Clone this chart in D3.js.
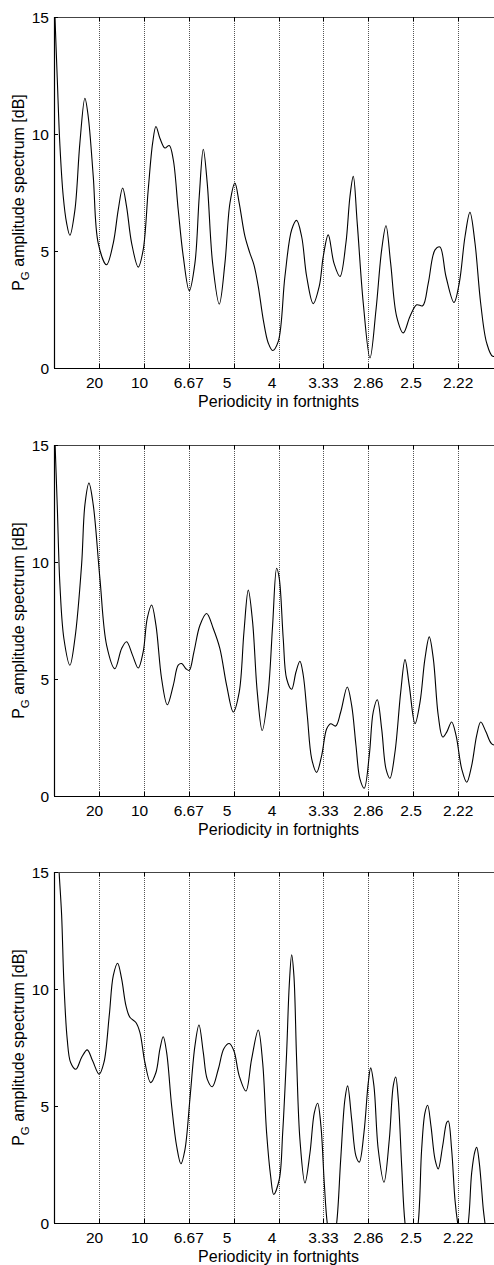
<!DOCTYPE html>
<html>
<head>
<meta charset="utf-8">
<script src="https://cdn.jsdelivr.net/npm/d3@7"></script>
<style>
  html, body { margin: 0; padding: 0; background: #fff; }
  svg { display: block; }
  text { font-family: "Liberation Sans", Arial, Helvetica, sans-serif; fill: #000; }
</style>
</head>
<body>
<svg id="chart" width="494" height="1265"></svg>
<script>
// ---- data ----
const tickFreqs = [0.05, 0.10, 0.15, 0.20, 0.25, 0.30, 0.35, 0.40, 0.45];
const tickLabels = ["20", "10", "6.67", "5", "4", "3.33", "2.86", "2.5", "2.22"];
const yTicks = [0, 5, 10, 15];
const xTitle = "Periodicity in fortnights";

const freq1 = [0.0005,0.0036,0.0066,0.0103,0.014,0.0177,0.0233,0.0288,0.0344,0.0381,0.0437,0.0492,0.0585,0.066,0.0715,0.0764,0.0808,0.0864,0.0938,0.0993,0.1049,0.1098,0.1135,0.1179,0.1235,0.1283,0.1328,0.1383,0.1439,0.1506,0.1569,0.1617,0.1662,0.1706,0.1766,0.184,0.1903,0.1959,0.2014,0.2062,0.2126,0.2181,0.2226,0.2274,0.233,0.2385,0.2434,0.2497,0.2571,0.2646,0.2701,0.2757,0.2813,0.2886,0.2953,0.2998,0.3053,0.3117,0.3184,0.325,0.3295,0.3332,0.3376,0.3443,0.3518,0.3585,0.3648,0.3696,0.3748,0.3815,0.3889,0.3963,0.4038,0.4105,0.4167,0.4242,0.4297,0.4364,0.4453,0.4512,0.4576,0.4631,0.4687,0.475,0.4817,0.4884,0.495];
const amp1 = [15.6,12.4,9.5,7.33,6.2,5.67,6.76,9.61,11.53,10.75,8.19,5.34,4.41,5.34,6.76,7.69,6.9,5.34,4.31,5.05,7.62,9.61,10.32,9.82,9.4,9.51,8.9,6.76,4.77,3.3,4.48,7.33,9.35,7.9,4.48,2.73,4.48,7.05,7.9,7.05,5.62,4.91,4.41,3.49,2.06,1.07,0.75,1.14,3.91,5.91,6.31,5.62,3.91,2.75,3.49,4.77,5.69,4.48,3.91,5.34,7.33,8.19,6.19,2.78,0.43,2.49,5.05,6.08,4.48,2.2,1.5,2.2,2.7,2.66,3.63,5.05,5.17,3.91,2.8,3.63,5.62,6.65,5.34,2.78,1.07,0.5,0.6];

const freq2 = [0.0005,0.0036,0.0066,0.011,0.0177,0.0233,0.0307,0.0344,0.0389,0.0437,0.0511,0.0586,0.0678,0.0753,0.0808,0.0875,0.0938,0.0993,0.1038,0.1087,0.1135,0.1198,0.1261,0.1328,0.1383,0.1421,0.1469,0.1506,0.1558,0.1625,0.1699,0.1773,0.1847,0.1922,0.1996,0.2062,0.2115,0.2163,0.2211,0.2263,0.2318,0.2385,0.2434,0.2479,0.2508,0.2552,0.259,0.2646,0.2694,0.2738,0.2775,0.282,0.2869,0.2924,0.298,0.3036,0.308,0.3136,0.3192,0.3265,0.3314,0.3362,0.3406,0.3454,0.351,0.3554,0.3599,0.3648,0.3696,0.374,0.3796,0.386,0.3908,0.3955,0.4019,0.4075,0.413,0.4178,0.4223,0.4278,0.4327,0.4372,0.4427,0.4476,0.4539,0.4595,0.465,0.4706,0.4751,0.481,0.4873,0.495];
const amp2 = [15.8,12.44,9.01,6.73,5.59,6.73,9.87,12.44,13.37,12.44,9.3,6.44,5.44,6.3,6.59,6.01,5.47,6.16,7.59,8.16,7.3,5.01,3.9,4.73,5.59,5.66,5.44,5.37,6.16,7.3,7.8,7.16,6.3,4.73,3.59,4.44,7.02,8.8,7.44,4.44,2.8,4.44,7.3,9.73,9.3,6.73,5.01,4.56,5.3,5.76,5.16,3.44,1.59,1.01,1.73,2.87,3.09,2.99,3.59,4.66,3.87,2.16,0.73,0.33,1.73,3.59,4.11,2.87,1.16,0.76,1.87,4.44,5.83,4.73,3.09,4.01,5.87,6.8,5.87,3.44,2.52,2.73,3.16,2.59,1.16,0.59,1.3,2.59,3.16,2.73,2.23,2.15];

const freq3 = [0.0045,0.0058,0.0085,0.011,0.0147,0.0185,0.0244,0.0307,0.037,0.043,0.0503,0.0556,0.0615,0.066,0.0708,0.0753,0.0801,0.0845,0.0912,0.0957,0.1012,0.1076,0.1135,0.1179,0.1216,0.1254,0.131,0.1365,0.1413,0.1458,0.1513,0.1569,0.1614,0.1662,0.1706,0.1762,0.1829,0.1892,0.1951,0.2003,0.2062,0.2137,0.22,0.2274,0.2323,0.2367,0.2412,0.2446,0.2508,0.2546,0.259,0.2619,0.2646,0.2671,0.2701,0.2738,0.2794,0.285,0.2898,0.2935,0.2972,0.3009,0.3042,0.3095,0.3147,0.3192,0.3239,0.3269,0.3314,0.3362,0.3399,0.3451,0.3499,0.3526,0.3562,0.361,0.3674,0.3733,0.3777,0.3804,0.3833,0.3871,0.3908,0.398,0.4055,0.4093,0.413,0.416,0.4197,0.4242,0.4278,0.4327,0.4372,0.439,0.4427,0.4464,0.4494,0.455,0.4612,0.465,0.4687,0.4706,0.4735,0.478,0.4798,0.485,0.495];
const amp3 = [16.0,14.93,13.15,10.29,7.86,6.86,6.57,7.07,7.4,6.93,6.36,6.86,8.86,10.57,11.1,10.43,9.29,8.79,8.57,8.14,6.86,6.0,6.43,7.43,7.96,7.29,5.0,3.29,2.53,3.14,5.29,7.57,8.46,7.29,6.15,5.82,6.57,7.46,7.67,7.36,6.29,5.64,7.0,8.25,6.86,3.86,2.0,1.22,1.86,3.86,7.29,10.15,11.46,10.57,7.0,3.57,1.71,3.0,4.71,5.12,4.14,1.71,0,-1.2,0,2.72,5.29,5.86,4.43,2.86,2.6,3.86,6.0,6.63,5.86,3.14,1.74,3.57,5.86,6.24,5.29,2.43,0,-1.8,0,3.14,4.71,5.03,4.14,2.72,2.31,3.29,4.29,4.36,3.14,1.0,0,-1.2,0,2.14,3.07,3.24,2.57,0.57,0,-1.5,-2];

const panels = [
  { freq: freq1, amp: amp1 },
  { freq: freq2, amp: amp2 },
  { freq: freq3, amp: amp3 }
];

// ---- layout ----
const svg = d3.select("#chart");
const left = 54, plotW = 449.1;
const panelTops = [17, 445, 872];
const plotH = 351;
const x = d3.scaleLinear().domain([0, 0.5]).range([left, left + plotW]);

panels.forEach((p, i) => {
  const top = panelTops[i], bottom = top + plotH;
  const y = d3.scaleLinear().domain([0, 15]).range([bottom, top]);
  const g = svg.append("g");

  const clipId = "clip" + i;
  svg.append("clipPath").attr("id", clipId)
    .append("rect").attr("x", left).attr("y", top).attr("width", plotW).attr("height", plotH);

  // dotted vertical grid lines
  g.selectAll("line.grid").data(tickFreqs).enter().append("line")
    .attr("class", "grid")
    .attr("x1", d => Math.round(x(d)) + 0.5).attr("x2", d => Math.round(x(d)) + 0.5)
    .attr("y1", top).attr("y2", bottom)
    .attr("stroke", "#555").attr("stroke-width", 1).attr("stroke-dasharray", "1,1");

  // curve
  const line = d3.line()
    .x((d, k) => x(p.freq[k]))
    .y(d => y(d))
    .curve(d3.curveCatmullRom.alpha(0.5));
  g.append("path")
    .attr("clip-path", "url(#" + clipId + ")")
    .attr("d", line(p.amp))
    .attr("fill", "none").attr("stroke", "#000").attr("stroke-width", 1.1)
    .attr("stroke-linejoin", "round");

  // axes box: left, bottom, top
  g.append("line").attr("x1", left + 0.5).attr("x2", left + 0.5).attr("y1", top).attr("y2", bottom)
    .attr("stroke", "#000").attr("stroke-width", 1.2);
  g.append("line").attr("x1", left).attr("x2", x.range()[1]).attr("y1", bottom + 0.5).attr("y2", bottom + 0.5)
    .attr("stroke", "#000").attr("stroke-width", 1.2);
  g.append("line").attr("x1", left).attr("x2", x.range()[1]).attr("y1", top + 0.5).attr("y2", top + 0.5)
    .attr("stroke", "#444").attr("stroke-width", 1.2);

  // x ticks (inside, bottom and top)
  g.selectAll("line.xtb").data(tickFreqs).enter().append("line")
    .attr("x1", d => Math.round(x(d)) + 0.5).attr("x2", d => Math.round(x(d)) + 0.5)
    .attr("y1", bottom).attr("y2", bottom - 4).attr("stroke", "#000");
  g.selectAll("line.xtt").data(tickFreqs).enter().append("line")
    .attr("x1", d => Math.round(x(d)) + 0.5).attr("x2", d => Math.round(x(d)) + 0.5)
    .attr("y1", top).attr("y2", top + 4).attr("stroke", "#000");

  // x tick labels (padded like MATLAB char matrix)
  g.selectAll("text.xl").data(tickFreqs).enter().append("text")
    .attr("x", d => x(d)).attr("y", bottom + 20)
    .attr("text-anchor", "middle").attr("font-size", 15.5)
    .style("white-space", "pre").attr("xml:space", "preserve")
    .text((d, k) => tickLabels[k].padEnd(4, " "));

  // y ticks & labels
  g.selectAll("line.yt").data(yTicks).enter().append("line")
    .attr("x1", left).attr("x2", left + 4)
    .attr("y1", d => Math.round(y(d)) + 0.5).attr("y2", d => Math.round(y(d)) + 0.5).attr("stroke", "#000");
  g.selectAll("text.yl").data(yTicks).enter().append("text")
    .attr("x", left - 5).attr("y", d => y(d)).attr("dy", "0.36em")
    .attr("text-anchor", "end").attr("font-size", 15.5)
    .text(d => d);

  // x title
  g.append("text").attr("x", x(0.25)).attr("y", bottom + 39)
    .attr("text-anchor", "middle").attr("font-size", 16).text(xTitle);

  // y title
  const yt = g.append("text")
    .attr("transform", `translate(24,${(top + bottom) / 2}) rotate(-90)`)
    .attr("text-anchor", "middle").attr("font-size", 16);
  yt.append("tspan").text("P");
  yt.append("tspan").attr("font-size", 11.5).attr("dy", 5).text("G");
  yt.append("tspan").attr("dy", -5).text(" amplitude spectrum [dB]");
});
</script>
</body>
</html>
